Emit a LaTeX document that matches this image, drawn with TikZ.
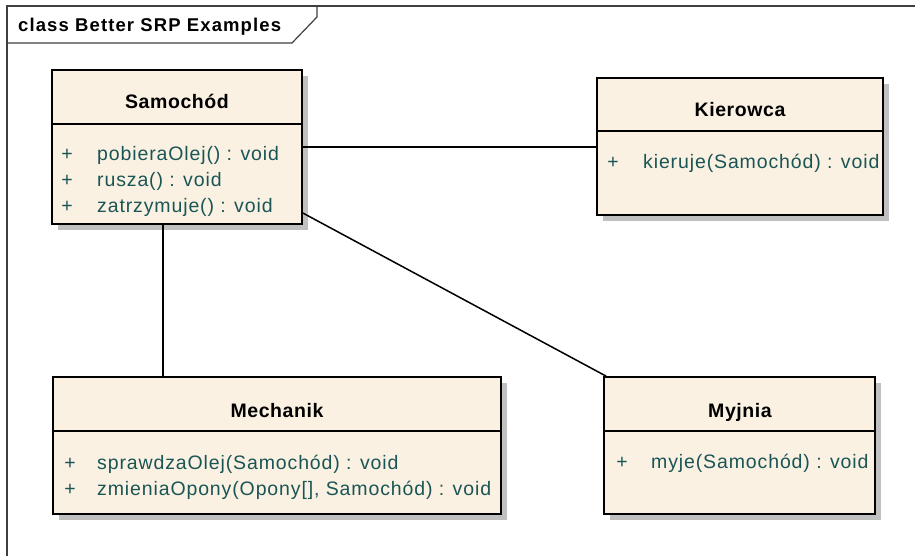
\documentclass[tikz,border=0pt]{standalone}
\usepackage{fontspec}
\setmainfont{Liberation Sans}
\newfontfamily\methfont[LetterSpace=4.5]{Liberation Sans}
\newfontfamily\clsfont[LetterSpace=3]{Liberation Sans}
\newfontfamily\ttlfont[LetterSpace=6]{Liberation Sans}
\usetikzlibrary{shadows}
\definecolor{cream}{HTML}{FBF1E3}
\definecolor{methcol}{HTML}{1A5555}
\definecolor{shadecol}{HTML}{C0C0C0}
\definecolor{framecol}{HTML}{404040}
\begin{document}
\begin{tikzpicture}[x=1pt,y=-1pt,
  clsbox/.style={draw=black, line width=1.6pt, fill=cream, rectangle, inner sep=0pt,
     drop shadow={shadow xshift=6pt, shadow yshift=-6pt, fill=shadecol, opacity=1}},
  septext/.style={draw=black, line width=1.6pt},
  clsname/.style={anchor=base, inner sep=0pt, font=\clsfont\fontsize{19.5}{22}\selectfont\bfseries},
  methtext/.style={anchor=base west, inner sep=0pt, text=methcol, font=\methfont\fontsize{19.5}{22}\selectfont},
  plusmark/.style={anchor=base, inner sep=0pt, text=methcol, font=\methfont\fontsize{19.5}{22}\selectfont},
  assoc/.style={draw=black, line width=1.5pt},
  framestyle/.style={draw=framecol, line width=1.2pt}
]
\useasboundingbox (0,0) rectangle (915,556);
\fill[white] (0,0) rectangle (915,556);

% frame
\draw[framestyle] (7,556) -- (7,6) -- (915,6);
\draw[framestyle] (7,43) -- (292,43) -- (317,17) -- (317,6);
\node[anchor=base west, inner sep=0pt, font=\ttlfont\fontsize{18.5}{20}\selectfont\bfseries] (title) at (18,32) {class Better SRP Examples};

% Samochod
\node[clsbox, minimum width=250pt, minimum height=154pt] (samo) at (177,147) {};
\draw[septext] (samo.west |- 0,124) -- (samo.east |- 0,124);
\node[clsname] (samoname) at (177,109) {Samochód};
\node[plusmark] (samop1) at (67,161) {+};
\node[methtext] (samom1) at (97,161) {pobieraOlej() : void};
\node[plusmark] (samop2) at (67,186.5) {+};
\node[methtext] (samom2) at (97,186.5) {rusza() : void};
\node[plusmark] (samop3) at (67,212) {+};
\node[methtext] (samom3) at (97,212) {zatrzymuje() : void};

% Kierowca
\node[clsbox, minimum width=286pt, minimum height=137pt] (kier) at (740,146.5) {};
\draw[septext] (kier.west |- 0,131) -- (kier.east |- 0,131);
\node[clsname] (kiername) at (740,117) {Kierowca};
\node[plusmark] (kierp1) at (613,169) {+};
\node[methtext] (kierm1) at (643,169) {kieruje(Samochód) : void};

% Mechanik
\node[clsbox, minimum width=448pt, minimum height=137pt] (mech) at (277,445.5) {};
\draw[septext] (mech.west |- 0,431) -- (mech.east |- 0,431);
\node[clsname] (mechname) at (277,417) {Mechanik};
\node[plusmark] (mechp1) at (70,469) {+};
\node[methtext] (mechm1) at (97,469) {sprawdzaOlej(Samochód) : void};
\node[plusmark] (mechp2) at (70,495) {+};
\node[methtext] (mechm2) at (97,495) {zmieniaOpony(Opony[], Samochód) : void};

% Myjnia
\node[clsbox, minimum width=271pt, minimum height=137pt] (myj) at (739.5,445.5) {};
\draw[septext] (myj.west |- 0,431) -- (myj.east |- 0,431);
\node[clsname] (myjname) at (740,417) {Myjnia};
\node[plusmark] (myjp1) at (622,468) {+};
\node[methtext] (myjm1) at (651,468) {myje(Samochód) : void};

% associations
\draw[assoc] (samo.east) -- (samo.east -| kier.west);
\draw[assoc] ([xshift=-14pt]samo.south) -- ([xshift=-14pt]samo.south |- mech.north);
\draw[assoc] ([yshift=-66pt]samo.east) -- ([xshift=3pt]myj.north west);
\end{tikzpicture}
\end{document}
